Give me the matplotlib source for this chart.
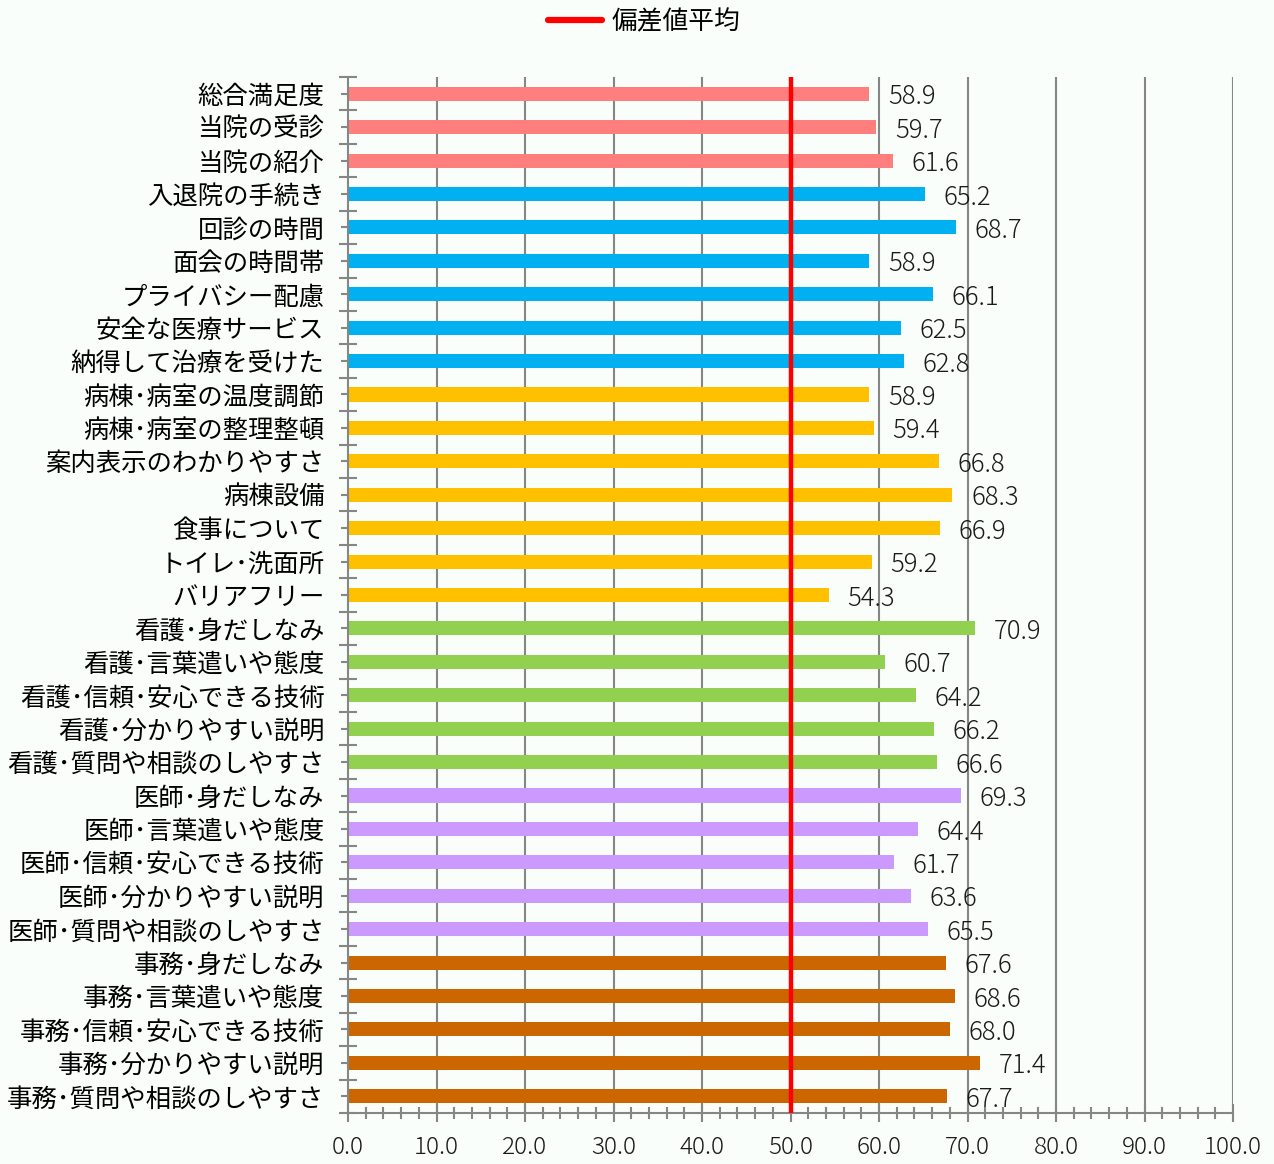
import matplotlib
matplotlib.use("Agg")
import matplotlib.pyplot as plt
from matplotlib.lines import Line2D
import numpy as np

plt.rcParams['font.family'] = ['Noto Sans CJK JP', 'DejaVu Sans']

categories = ["総合満足度", "当院の受診", "当院の紹介",
              "入退院の手続き", "回診の時間", "面会の時間帯", "プライバシー配慮", "安全な医療サービス", "納得して治療を受けた",
              "病棟･病室の温度調節", "病棟･病室の整理整頓", "案内表示のわかりやすさ", "病棟設備", "食事について", "トイレ･洗面所", "バリアフリー",
              "看護･身だしなみ", "看護･言葉遣いや態度", "看護･信頼･安心できる技術", "看護･分かりやすい説明", "看護･質問や相談のしやすさ",
              "医師･身だしなみ", "医師･言葉遣いや態度", "医師･信頼･安心できる技術", "医師･分かりやすい説明", "医師･質問や相談のしやすさ",
              "事務･身だしなみ", "事務･言葉遣いや態度", "事務･信頼･安心できる技術", "事務･分かりやすい説明", "事務･質問や相談のしやすさ"]
values = [58.9, 59.7, 61.6,
          65.2, 68.7, 58.9, 66.1, 62.5, 62.8,
          58.9, 59.4, 66.8, 68.3, 66.9, 59.2, 54.3,
          70.9, 60.7, 64.2, 66.2, 66.6,
          69.3, 64.4, 61.7, 63.6, 65.5,
          67.6, 68.6, 68.0, 71.4, 67.7]
group_sizes = [3, 6, 7, 5, 5, 5]
group_colors = ["#FF7F7F", "#00B0F0", "#FFC000", "#92D050", "#CC99FF", "#CC6600"]
average = 50
legend_label = "偏差値平均"
xticks = np.arange(0, 101, 10)

colors = []
for n, c in zip(group_sizes, group_colors):
    colors += [c] * n

bg = "#F9FEFB"
fig = plt.figure(figsize=(12.74, 11.64), dpi=100, facecolor=bg)
ax = fig.add_axes([348/1274, 1 - 1113/1164, (1233-348)/1274, (1113-77)/1164])
ax.set_facecolor(bg)

n = len(categories)
y = np.arange(n)
ax.barh(y, values, height=0.42, color=colors, zorder=2)
ax.set_ylim(n - 0.5, -0.5)
ax.set_xlim(0, 100)

for xv in xticks[1:]:
    ax.axvline(xv, color="#868686", lw=1.5, zorder=1)

ax.axvline(average, color="#FF0000", lw=3.2, zorder=3)

for yi, v in zip(y, values):
    ax.text(v + 2.1, yi + 0.1, f"{v:.1f}", va="center", ha="left", fontsize=18.5,
            color="#1a1a1a", fontweight="light", zorder=4)

ax.set_yticks(y)
ax.set_yticklabels(categories, fontsize=18.3, color="#000000")
ax.set_yticks(np.arange(-0.5, n, 1), minor=True)
ax.tick_params(axis='y', which='major', length=10, direction='inout', color="#868686", width=1.5, pad=12)
ax.tick_params(axis='y', which='minor', length=13, direction='inout', color="#868686", width=1.5)

ax.set_xticks(xticks)
ax.set_xticklabels([f"{t:.1f}" for t in xticks], fontsize=17.5, color="#1a1a1a", fontweight="light")
ax.set_xticks(np.arange(0, 101, 2), minor=True)
ax.tick_params(axis='x', which='major', length=13, direction='inout', color="#868686", width=1.5, pad=9)
ax.tick_params(axis='x', which='minor', length=8, direction='inout', color="#868686", width=1.5)

for s in ["top", "right"]:
    ax.spines[s].set_visible(False)
for s in ["left", "bottom"]:
    ax.spines[s].set_color("#868686")
    ax.spines[s].set_linewidth(1.5)

handle = Line2D([0], [0], color="#FF0000", lw=4.5, solid_capstyle="round")
fig.legend([handle], [legend_label], loc="center", bbox_to_anchor=(644/1274, 1 - 22/1164),
           frameon=False, fontsize=18.5, handlelength=2.1, handletextpad=0.35)

fig.savefig("out.png", dpi=100, facecolor=bg)
